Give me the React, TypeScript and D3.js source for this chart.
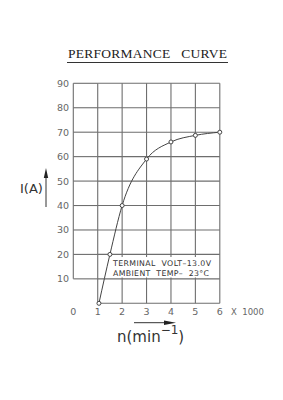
import React, { useEffect, useRef } from 'react'
import * as d3 from 'd3'

// speed (x1000 min^-1) and current (A)
const speed = [1.05, 1.5, 2, 3, 4, 5, 6]
const current = [0, 20, 40, 59, 66, 68.7, 70]
const xTicks = [0, 1, 2, 3, 4, 5, 6]
const yTicks = [10, 20, 30, 40, 50, 60, 70, 80, 90]
const noteLines = ['TERMINAL  VOLT\u201313.0V', 'AMBIENT  TEMP\u2013  23\u00b0C']

const App = () => {
    const ref = useRef<SVGSVGElement>(null)

    useEffect(() => {
        const w = 283, h = 400
        const svg = d3.select(ref.current)
        svg.selectAll('*').remove()
        svg.attr('width', w).attr('height', h).style('background', '#fff')

        const x = d3.scaleLinear().domain([0, 6]).range([73.3, 219.8])
        const y = d3.scaleLinear().domain([0, 90]).range([303.3, 83.3])
        const grid = '#6e6e6e'
        const font = 'DejaVu Sans, sans-serif'

        // title
        svg.append('text')
            .attr('x', 68).attr('y', 58)
            .attr('font-family', 'Liberation Serif, serif')
            .attr('font-size', 13.5)
            .attr('textLength', 159)
            .style('white-space', 'pre')
            .attr('fill', '#222')
            .text('PERFORMANCE   CURVE')
        svg.append('line')
            .attr('x1', 67).attr('x2', 228).attr('y1', 62.5).attr('y2', 62.5)
            .attr('stroke', '#333').attr('stroke-width', 1)

        // grid
        const g = svg.append('g')
        g.selectAll('line.v').data(xTicks.slice(1)).join('line')
            .attr('x1', d => x(d)).attr('x2', d => x(d))
            .attr('y1', y(0)).attr('y2', y(90))
            .attr('stroke', grid).attr('stroke-width', 1.1)
        g.selectAll('line.h').data([0, ...yTicks]).join('line')
            .attr('x1', x(1)).attr('x2', x(6))
            .attr('y1', d => y(d)).attr('y2', d => y(d))
            .attr('stroke', grid).attr('stroke-width', 1.1)
        g.append('line')
            .attr('x1', x(0)).attr('x2', x(0))
            .attr('y1', y(10)).attr('y2', y(90))
            .attr('stroke', grid).attr('stroke-width', 1.1)
        g.selectAll('line.hl').data(yTicks).join('line')
            .attr('x1', x(0)).attr('x2', x(1))
            .attr('y1', d => y(d)).attr('y2', d => y(d))
            .attr('stroke', grid).attr('stroke-width', 1.1)

        // tick labels
        svg.append('g').selectAll('text').data(yTicks).join('text')
            .attr('x', 69).attr('y', d => y(d) + 3.5)
            .attr('text-anchor', 'end')
            .attr('font-family', font).attr('font-size', 9.5)
            .attr('fill', '#666')
            .text(d => d)
        svg.append('g').selectAll('text').data(xTicks).join('text')
            .attr('x', d => x(d)).attr('y', 315)
            .attr('text-anchor', 'middle')
            .attr('font-family', font).attr('font-size', 9.5)
            .attr('fill', '#666')
            .text(d => d)
        svg.append('text')
            .attr('x', 231).attr('y', 315)
            .attr('font-family', font).attr('font-size', 8.5)
            .style('white-space', 'pre')
            .attr('fill', '#666')
            .text('X  1000')

        // curve
        const pts = speed.map((s, i) => [s, current[i]] as [number, number])
        const line = d3.line<[number, number]>()
            .x(d => x(d[0])).y(d => y(d[1]))
            .curve(d3.curveMonotoneX)
        svg.append('path')
            .attr('d', line(pts))
            .attr('fill', 'none').attr('stroke', '#444').attr('stroke-width', 1)
        svg.append('g').selectAll('circle').data(pts).join('circle')
            .attr('cx', d => x(d[0])).attr('cy', d => y(d[1]))
            .attr('r', 2)
            .attr('fill', '#fff').attr('stroke', '#444').attr('stroke-width', 1)

        // note box
        svg.append('rect')
            .attr('x', 111).attr('y', 257).attr('width', 103).attr('height', 20.5)
            .attr('fill', '#fff')
        svg.append('g').selectAll('text').data(noteLines).join('text')
            .attr('x', 113).attr('y', (d, i) => 265.5 + i * 10.5)
            .attr('font-family', font).attr('font-size', 7.8)
            .attr('textLength', (d, i) => i === 0 ? 98 : 96)
            .style('white-space', 'pre')
            .attr('fill', '#333')
            .text(d => d)

        // axis titles
        svg.append('text')
            .attr('x', 20).attr('y', 193)
            .attr('font-family', font).attr('font-size', 13)
            .attr('fill', '#333')
            .text('I(A)')
        svg.append('line')
            .attr('x1', 46).attr('x2', 46).attr('y1', 207).attr('y2', 176)
            .attr('stroke', '#333').attr('stroke-width', 1)
        svg.append('path')
            .attr('d', 'M46,168 L43.8,178 L48.2,178 Z').attr('fill', '#222')

        const xt = svg.append('text')
            .attr('x', 117).attr('y', 342)
            .attr('font-family', font).attr('font-size', 15)
            .attr('fill', '#333')
        xt.append('tspan').text('n(min')
        xt.append('tspan').attr('dy', -8).attr('font-size', 12).text('\u22121')
        xt.append('tspan').attr('dy', 8).text(')')

        svg.append('line')
            .attr('x1', 134).attr('x2', 166).attr('y1', 322.7).attr('y2', 322.7)
            .attr('stroke', '#333').attr('stroke-width', 1)
        svg.append('path')
            .attr('d', 'M176,322.7 L164,320.5 L164,324.9 Z').attr('fill', '#222')
    }, [])

    return (
        <svg ref={ref} style={{ position: 'absolute', left: 0, top: 0 }} />
    )
}

export default App
